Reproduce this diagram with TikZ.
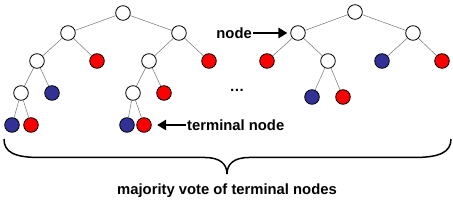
\documentclass[tikz,border=0pt]{standalone}
\usepackage{fontspec}
\setmainfont{Liberation Sans}
\usetikzlibrary{arrows.meta}
\definecolor{merahdaun}{RGB}{250,0,0}
\definecolor{birudaun}{RGB}{50,50,150}

\begin{document}
\begin{tikzpicture}[
    x=1pt, y=-1pt,
    simpul/.style={circle, draw, line width=0.8pt, minimum size=14.6pt, inner sep=0pt, fill=white},
    merah/.style={simpul, fill=merahdaun},
    biru/.style={simpul, fill=birudaun},
    tepi/.style={draw=gray!90!black, line width=0.5pt},
    teks/.style={font=\fontsize{14.8}{17}\selectfont\bfseries, inner sep=1pt},
    panah/.style={-{Triangle[length=9pt, width=10.5pt]}, line width=1.7pt}
  ]
    \useasboundingbox (0,0) rectangle (453,200);

    % pohon pertama
    \node[simpul] (p1) at (123,13) {};
    \node[simpul] (p1a) at (68,33) {};
    \node[simpul] (p1b) at (179,33) {};
    \node[simpul] (p1aa) at (37,61) {};
    \node[merah]  (p1ab) at (97,61) {};
    \node[simpul] (p1ba) at (149,61) {};
    \node[merah]  (p1bb) at (209,61) {};
    \node[simpul] (p1aaa) at (21,93) {};
    \node[biru]   (p1aab) at (52,93) {};
    \node[simpul] (p1baa) at (133,93) {};
    \node[merah]  (p1bab) at (164,93) {};
    \node[biru]   (p1aaaa) at (12,125) {};
    \node[merah]  (p1aaab) at (31,125) {};
    \node[biru]   (p1baaa) at (127,125) {};
    \node[merah]  (p1baab) at (144,125) {};

    \draw[tepi] (p1) -- (p1a);
    \draw[tepi] (p1) -- (p1b);
    \draw[tepi] (p1a) -- (p1aa);
    \draw[tepi] (p1a) -- (p1ab);
    \draw[tepi] (p1b) -- (p1ba);
    \draw[tepi] (p1b) -- (p1bb);
    \draw[tepi] (p1aa) -- (p1aaa);
    \draw[tepi] (p1aa) -- (p1aab);
    \draw[tepi] (p1ba) -- (p1baa);
    \draw[tepi] (p1ba) -- (p1bab);
    \draw[tepi] (p1aaa) -- (p1aaaa);
    \draw[tepi] (p1aaa) -- (p1aaab);
    \draw[tepi] (p1baa) -- (p1baaa);
    \draw[tepi] (p1baa) -- (p1baab);

    % pohon kedua
    \node[simpul] (p2) at (355,12) {};
    \node[simpul] (p2a) at (298,33) {};
    \node[simpul] (p2b) at (413,33) {};
    \node[merah]  (p2aa) at (267,61) {};
    \node[simpul] (p2ab) at (328,61) {};
    \node[biru]   (p2ba) at (382,61) {};
    \node[merah]  (p2bb) at (442,61) {};
    \node[biru]   (p2aba) at (312,97) {};
    \node[merah]  (p2abb) at (343,97) {};

    \draw[tepi] (p2) -- (p2a);
    \draw[tepi] (p2) -- (p2b);
    \draw[tepi] (p2a) -- (p2aa);
    \draw[tepi] (p2a) -- (p2ab);
    \draw[tepi] (p2b) -- (p2ba);
    \draw[tepi] (p2b) -- (p2bb);
    \draw[tepi] (p2ab) -- (p2aba);
    \draw[tepi] (p2ab) -- (p2abb);

    % keterangan
    \node[teks] (titik) at (237,90) {…};
    \node[teks, anchor=east] (tsimpul) at (253,33) {node};
    \node[teks, anchor=west] (tdaun) at (186,125) {terminal node};
    \draw[panah, shorten >=3pt] (tsimpul) -- (p2a);
    \draw[panah, shorten >=5.5pt] (tdaun) -- (p1baab);

    % kurung kurawal
    \draw[line width=1.5pt]
      (4,139) .. controls (4,152) and (14,157.5) .. (40,157.5) -- (205,157.5)
      .. controls (220,157.5) and (227,164) .. (227,174)
      .. controls (227,164) and (234,157.5) .. (249,157.5) -- (414,157.5)
      .. controls (440,157.5) and (451,152) .. (451,139);
    \node[teks] (suara) at (227,191) {majority vote of terminal nodes};
\end{tikzpicture}
\end{document}
